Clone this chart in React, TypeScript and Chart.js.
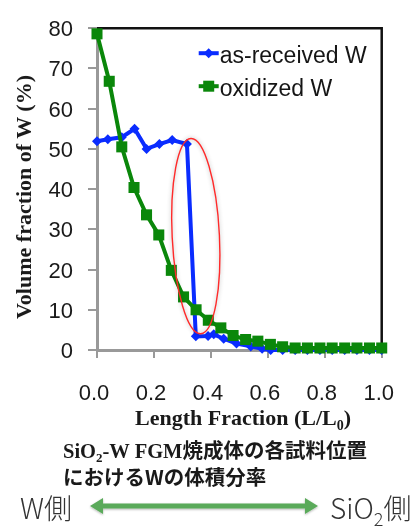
import React, { useEffect, useRef } from "react";
import { Chart, registerables } from "chart.js";

Chart.register(...registerables);

// ---- data ----
const xTickLabels = ["0.0", "0.2", "0.4", "0.6", "0.8", "1.0"];
const yTickLabels = ["0", "10", "20", "30", "40", "50", "60", "70", "80"];

const oxidizedX = [0, 0.043, 0.087, 0.13, 0.174, 0.217, 0.261, 0.304, 0.348, 0.391, 0.435, 0.478, 0.522, 0.565, 0.609, 0.652, 0.696, 0.739, 0.783, 0.826, 0.87, 0.913, 0.957, 1.0];
const oxidizedY = [78.6, 66.8, 50.5, 40.4, 33.6, 28.6, 19.8, 13.2, 10.0, 7.4, 5.5, 3.6, 2.6, 2.2, 1.4, 0.8, 0.5, 0.5, 0.5, 0.5, 0.5, 0.5, 0.5, 0.5];

const receivedX = [0, 0.038, 0.087, 0.132, 0.174, 0.219, 0.264, 0.316, 0.347, 0.39, 0.41, 0.445, 0.49, 0.54, 0.58, 0.61, 0.652, 0.696, 0.739, 0.783, 0.826, 0.87, 0.913, 0.957, 1.0];
const receivedY = [51.9, 52.4, 52.9, 55.0, 50.0, 51.2, 52.2, 51.2, 3.4, 3.5, 3.9, 2.8, 1.6, 0.9, 0.3, 0, 0, 0, 0, 0, 0, 0, 0, 0, 0];

const seriesLabels = ["as-received W", "oxidized W"];

// highlighted region (ellipse) in data units
const ellipseCenter = [0.347, 28.3];
const ellipseRadius = [0.083, 24.3];

const BLUE = "#0a2cff";
const GREEN = "#0a870a";
const SANS = '"Liberation Sans", Arial, sans-serif';
const SERIF = '"Liberation Serif", "Times New Roman", serif';
const CJK = '"Noto Sans CJK JP", "Noto Sans", sans-serif';

const decor = {
  id: "decor",
  beforeDatasetsDraw(chart: any) {
    const { ctx, chartArea: a } = chart;
    ctx.save();
    ctx.strokeStyle = "#111";
    ctx.lineWidth = 2.5;
    ctx.beginPath();
    ctx.moveTo(a.left, a.top);
    ctx.lineTo(a.right, a.top);
    ctx.lineTo(a.right, a.bottom);
    ctx.stroke();
    ctx.restore();
  },
  afterDatasetsDraw(chart: any) {
    const { ctx, chartArea: a, scales } = chart;
    const xs = scales.x;
    const ys = scales.y;
    // ellipse
    const cx = xs.getPixelForValue(ellipseCenter[0]);
    const cy = ys.getPixelForValue(ellipseCenter[1]);
    const rx = xs.getPixelForValue(ellipseCenter[0] + ellipseRadius[0]) - cx;
    const ry = cy - ys.getPixelForValue(ellipseCenter[1] + ellipseRadius[1]);
    ctx.save();
    ctx.shadowColor = "rgba(0,0,0,0.3)";
    ctx.shadowBlur = 4;
    ctx.strokeStyle = "#ff2a2a";
    ctx.lineWidth = 1.4;
    ctx.beginPath();
    ctx.ellipse(cx, cy, rx, ry, -0.05, 0, Math.PI * 2);
    ctx.stroke();
    ctx.restore();

    // legend
    const lx = a.right - 183;
    const rows = [
      { label: seriesLabels[0], color: BLUE, style: "diamond", y: a.top + 25 },
      { label: seriesLabels[1], color: GREEN, style: "square", y: a.top + 58 },
    ];
    ctx.save();
    rows.forEach((r) => {
      ctx.strokeStyle = r.color;
      ctx.fillStyle = r.color;
      ctx.lineWidth = 4;
      ctx.beginPath();
      ctx.moveTo(lx, r.y);
      ctx.lineTo(lx + 20, r.y);
      ctx.stroke();
      const mx = lx + 10;
      ctx.beginPath();
      if (r.style === "diamond") {
        ctx.moveTo(mx, r.y - 5);
        ctx.lineTo(mx + 5, r.y);
        ctx.lineTo(mx, r.y + 5);
        ctx.lineTo(mx - 5, r.y);
        ctx.closePath();
      } else {
        ctx.rect(mx - 5.5, r.y - 5.5, 11, 11);
      }
      ctx.fill();
      ctx.fillStyle = "#151515";
      ctx.font = `23px ${SANS}`;
      ctx.textBaseline = "middle";
      ctx.textAlign = "left";
      ctx.fillText(r.label, lx + 21, r.y + 3);
    });
    ctx.restore();
  },
};

export default function App() {
  const ref = useRef<HTMLCanvasElement>(null);

  useEffect(() => {
    const chart = new Chart(ref.current as HTMLCanvasElement, {
      type: "line",
      data: {
        datasets: [
          {
            label: seriesLabels[1],
            data: oxidizedX.map((x, i) => ({ x, y: oxidizedY[i] })),
            borderColor: GREEN,
            backgroundColor: GREEN,
            borderWidth: 4,
            pointStyle: "rect",
            pointRadius: 7.8,
            pointBorderWidth: 0,
            pointBackgroundColor: GREEN,
            tension: 0,
            clip: false as any,
            order: 0,
          },
          {
            label: seriesLabels[0],
            data: receivedX.map((x, i) => ({ x, y: receivedY[i] })),
            borderColor: BLUE,
            backgroundColor: BLUE,
            borderWidth: 4,
            pointStyle: "rectRot",
            pointRadius: 5,
            pointBorderWidth: 0,
            pointBackgroundColor: BLUE,
            tension: 0,
            clip: false as any,
            order: 1,
          },
        ],
      },
      options: {
        responsive: false,
        animation: false,
        layout: { padding: { left: 0, top: 17, right: 35, bottom: 20 } },
        plugins: { legend: { display: false }, tooltip: { enabled: false } },
        scales: {
          x: {
            type: "linear",
            min: 0,
            max: 1,
            afterFit: (s: any) => {
              s.height = 60;
            },
            ticks: {
              stepSize: 0.2,
              maxRotation: 0,
              autoSkip: false,
              padding: 23,
              labelOffset: -3,
              color: "#1a1a1a",
              font: { family: SANS, size: 22 },
              callback: (_v: any, i: number) => xTickLabels[i],
            },
            grid: { drawOnChartArea: false, drawTicks: true, tickLength: 8, color: "#999", lineWidth: 2 },
            border: { display: true, color: "#999", width: 3 },
          },
          y: {
            min: 0,
            max: 80,
            afterFit: (s: any) => {
              s.width = 97;
            },
            ticks: {
              stepSize: 10,
              padding: 15,
              labelOffset: 2,
              color: "#1a1a1a",
              font: { family: SANS, size: 22 },
              callback: (_v: any, i: number) => yTickLabels[i],
            },
            grid: { drawOnChartArea: false, drawTicks: true, tickLength: 9, color: "#999", lineWidth: 2 },
            border: { display: true, color: "#999", width: 3 },
          },
        },
      },
      plugins: [decor],
    });
    return () => chart.destroy();
  }, []);

  return (
    <div style={{ position: "fixed", left: 0, top: 0, width: 420, height: 527, background: "#fff", overflow: "hidden" }}>
      <canvas ref={ref} width={420} height={430} style={{ position: "absolute", left: 0, top: 0, width: 420, height: 430 }} />
      {/* y axis title */}
      <div
        style={{
          position: "absolute",
          left: 24,
          top: 197,
          transform: "translate(-50%, -50%) rotate(-90deg)",
          whiteSpace: "nowrap",
          font: `bold 22px ${SERIF}`,
          color: "#1a1a1a",
          lineHeight: "24px",
        }}
      >
        Volume fraction of W (%)
      </div>
      {/* x axis title */}
      <div
        style={{
          position: "absolute",
          left: 243,
          top: 419,
          transform: "translate(-50%, -50%)",
          whiteSpace: "nowrap",
          font: `bold 22px ${SERIF}`,
          color: "#1a1a1a",
          lineHeight: "24px",
        }}
      >
        Length Fraction (L/L
        <span style={{ fontSize: 14, position: "relative", top: 5 }}>0</span>)
      </div>
      {/* caption */}
      <div
        style={{
          position: "absolute",
          left: 63,
          top: 438,
          whiteSpace: "nowrap",
          fontSize: 20.5,
          lineHeight: "23px",
          color: "#1a1a1a",
          fontWeight: 700,
        }}
      >
        <span style={{ fontFamily: SERIF }}>
          SiO<span style={{ fontSize: 13, position: "relative", top: 4 }}>2</span>-W FGM
        </span>
        <span style={{ fontFamily: CJK }}>焼成体の各試料位置</span>
        <br />
        <span style={{ fontFamily: CJK }}>におけるWの体積分率</span>
      </div>
      {/* bottom row */}
      <div
        style={{
          position: "absolute",
          left: 20,
          top: 490,
          whiteSpace: "nowrap",
          fontFamily: CJK,
          fontSize: 28,
          lineHeight: "34px",
          color: "#333",
          fontWeight: 300,
        }}
      >
        W側
      </div>
      <svg style={{ position: "absolute", left: 85, top: 494 }} width={240} height={26}>
        <defs>
          <filter id="sh" x="-10%" y="-50%" width="120%" height="200%">
            <feDropShadow dx="0" dy="1" stdDeviation="1" floodColor="#000" floodOpacity="0.3" />
          </filter>
        </defs>
        <g filter="url(#sh)" fill="#5aaa5a">
          <polygon points="5,12 18,4 18,9.5 220,9.5 220,4 233,12 220,20 220,14.5 18,14.5 18,20" />
        </g>
      </svg>
      <div
        style={{
          position: "absolute",
          left: 330,
          top: 490,
          whiteSpace: "nowrap",
          fontFamily: CJK,
          fontSize: 28,
          lineHeight: "34px",
          color: "#333",
          fontWeight: 300,
        }}
      >
        SiO<span style={{ fontSize: 18, position: "relative", top: 7 }}>2</span>側
      </div>
    </div>
  );
}
